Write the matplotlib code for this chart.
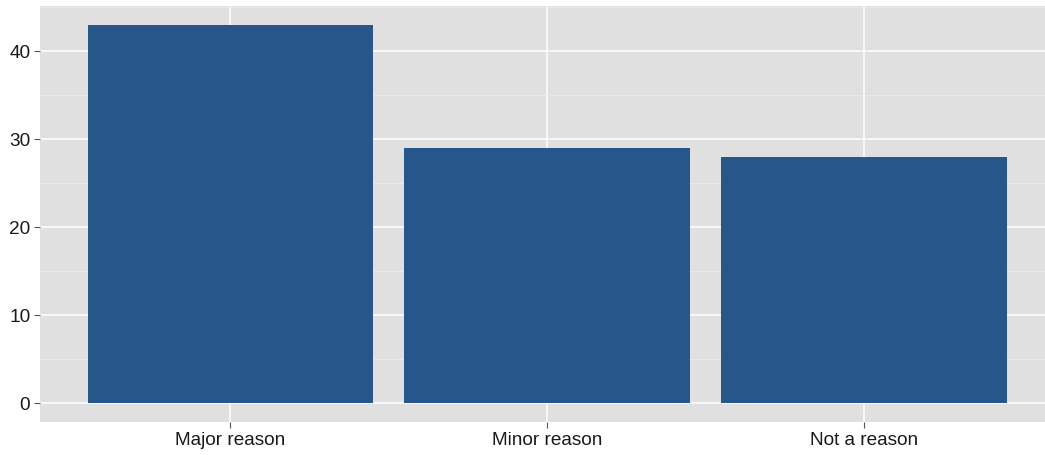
import matplotlib
matplotlib.use("Agg")
from matplotlib import pyplot as plt
from matplotlib.ticker import MultipleLocator

categories = ["Major reason", "Minor reason", "Not a reason"]
values = [43, 29, 28]
y_ticks = [0, 10, 20, 30, 40]

plt.rcParams['font.family'] = ['Liberation Sans', 'DejaVu Sans']

fig = plt.figure(figsize=(10.45, 4.55), dpi=100)
ax = fig.add_axes([40 / 1045, 33 / 455, 1005 / 1045, 416 / 455])
ax.set_facecolor('#e0e0e0')

xs = list(range(1, len(categories) + 1))
ax.bar(xs, values, width=0.9, color='#27568a', zorder=3)

ax.set_xlim(0.4, 3.571)
ax.set_ylim(-2.15, 45.15)
ax.set_xticks(xs)
ax.set_xticklabels(categories)
ax.set_yticks(y_ticks)
ax.yaxis.set_minor_locator(MultipleLocator(5))

ax.grid(which='major', color='white', linewidth=1.1, zorder=1)
ax.grid(which='minor', axis='y', color='#ebebeb', linewidth=0.6, zorder=1)
ax.set_axisbelow(True)

for s in ax.spines.values():
    s.set_visible(False)

ax.tick_params(which='major', length=4, width=0.8, color='#555555',
               labelsize=13.7, labelcolor='#1a1a1a', pad=3)
ax.tick_params(which='minor', length=0)

fig.savefig('out.png', dpi=100)
